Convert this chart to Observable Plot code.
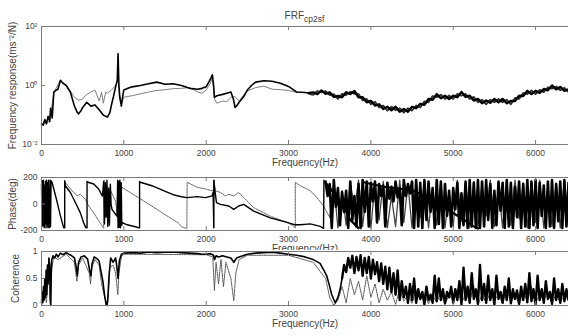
<!DOCTYPE html>
<html><head><meta charset="utf-8">
<script src="https://cdn.jsdelivr.net/npm/d3@7"></script>
<script src="https://cdn.jsdelivr.net/npm/@observablehq/plot@0.6"></script>
<style>
html,body{margin:0;padding:0;background:#fff;}
#fig{position:relative;width:568px;height:336px;overflow:hidden;background:#fff;font-family:"Liberation Sans",Arial,Helvetica,sans-serif;}
.panel{position:absolute;left:0;}
#title{position:absolute;left:41px;width:527px;top:11px;text-align:center;font-size:10px;line-height:10px;color:#444;}
#title sub{font-size:8.5px;vertical-align:-3px;line-height:0;}
</style></head>
<body><div id="fig"><div id="title">FRF<sub>cp2sf</sub></div></div>
<script>
// ---------- shared axis values ----------
const xTicks = [0, 1000, 2000, 3000, 4000, 5000, 6000];
const xDomain = [0, 6400];
const magTicks = [0.01, 1, 100];
const magTickLabels = ["10⁻²", "10⁰", "10²"];
const phaseTicks = [-200, 0, 200];
const cohTicks = [0, 0.5, 1];
const titleMain = "FRF", titleSub = "cp2sf";
const xLabel = "Frequency(Hz)";
const magLabel = "Frequency response(ms⁻²/N)";
const phaseLabel = "Phase(deg)";
const cohLabel = "Coherence";

// ---------- magnitude (top panel) ----------
const magBlackHz = [0,20,40,60,80,100,110,130,150,180, 200,230,260,300,350,400,430,450,480,500,
  550,600,650,700,750,780,800,830,850,880, 900,920,930,940,950,970,990,1000,1050,1100,
  1200,1300,1400,1500,1600,1700,1800,1900,1950,2000, 2050,2075,2090,2100,2130,2200,2250,2300,2330,2350,
  2380,2400,2450,2500,2550,2600,2700,2800,2900,3000, 3100,3200,3250];
const magBlackVal = [0.05,0.045,0.07,0.05,0.09,0.06,0.17,0.08,0.6,0.7, 0.75,1.5,1.2,1.0,0.6,0.2,0.13,0.11,0.14,0.18,
  0.27,0.2,0.22,0.15,0.1,0.09,0.085,0.12,0.22,0.5, 0.9,1.5,12,1.0,0.4,0.2,0.5,0.7,0.8,0.9,
  1.0,1.15,1.3,1.1,1.15,1.0,0.8,0.75,0.8,0.9, 1.6,2.3,1.0,0.4,0.45,0.5,0.55,0.6,0.35,0.18,
  0.22,0.27,0.4,0.7,1.0,1.3,1.45,1.4,1.2,0.93, 0.6,0.58,0.56];
const magGrayHz = [0,100,150,230,300,350,400,450,500,550, 600,650,700,730,750,780,800,850,900,925,
  930,935,950,970,1000,1100,1200,1300,1400,1500, 1600,1700,1800,1900,1950,2000,2050,2075,2090,2100,
  2130,2200,2250,2300,2350,2400,2450,2500,2600,2700, 2800,2900,3000,3100,3200,3250];
const magGrayVal = [0.05,0.06,0.6,1.5,1.0,0.65,0.4,0.32,0.35,0.5, 0.6,0.7,0.3,0.6,0.25,0.6,0.55,0.7,1.0,1.5,
  8,1.2,0.5,0.25,0.4,0.45,0.52,0.6,0.68,0.72, 0.78,0.8,0.85,0.6,0.55,0.7,1.2,1.8,0.8,0.35,
  0.25,0.3,0.28,0.4,0.42,0.3,0.45,0.65,0.85,0.95, 0.75,0.72,0.68,0.58,0.58,0.52];
// noisy band, sampled every 50 Hz from 3300 to 6400 Hz
const magBandHz = d3.range(3300, 6401, 50);
const magBandBlack = [0.58,0.51,0.68,0.52,0.59,0.41,0.44,0.40,0.59,0.51, 0.65,0.40,0.40,0.27,0.30,0.21,0.23,0.16,0.19,0.145,
  0.19,0.13,0.16,0.13,0.19,0.17,0.24,0.22,0.35,0.33, 0.51,0.37,0.45,0.35,0.45,0.40,0.60,0.41,0.45,0.31,
  0.35,0.25,0.31,0.26,0.35,0.27,0.35,0.25,0.30,0.30, 0.45,0.44,0.66,0.51,0.66,0.56,0.76,0.69,1.0,0.74,
  0.89,0.66,0.74];
const magBandGray = [0.48,0.65,0.58,0.65,0.47,0.51,0.35,0.52,0.47,0.62, 0.52,0.52,0.31,0.35,0.23,0.28,0.18,0.21,0.14,0.19,
  0.145,0.17,0.12,0.17,0.14,0.21,0.18,0.29,0.27,0.44, 0.40,0.49,0.35,0.46,0.35,0.52,0.45,0.52,0.35,0.41,
  0.27,0.33,0.23,0.33,0.27,0.35,0.27,0.33,0.23,0.38, 0.35,0.56,0.51,0.68,0.51,0.71,0.59,0.87,0.78,0.93,
  0.69,0.83,0.60];

// ---------- phase (middle panel) ----------
const phaseBlackHz = [0,6,12,18,24,30,36,42,48,54, 60,66,72,78,84,90,96,100,104,110,
  116,128,180,230,270,282,282,290,351,392, 432,472,513,540,553,553,565,634,694,740,
  755,765,775,785,795,805,815,825,836,845, 856,890,917,925,930,937,945,952,960,968,
  975,980,1040,1140,1185,1191,1191,1200,1341,1503, 1600,1700,1769,1890,1991,2072,2085,2092,2093,2100,
  2125,2173,2274,2335,2395,2456,2577,2779,2981,3082, 3143,3264,3385,3425,3430];
const phaseBlackDeg = [150,-170,175,-160,180,-175,140,-180,170,-150, 180,-180,160,-170,180,-180,120,-175,180,-170,
  175,164,40,-90,-180,-180,175,138,87,36, -15,-67,-144,-180,-180,170,164,151,113,60,
  170,-150,160,-100,180,-170,120,-160,150,0, -41,-70,-92,180,-180,170,-175,180,-180,160,
  -160,-140,-157,-172,-180,-180,170,164,138,95, 70,55,48,56,48,61,87,-180,180,130,
  10,-3,-15,-41,-15,-3,-54,-105,-139,-157, -157,-150,-169,-185,180];
const phaseGrayHz = [282,330,371,432,472,533,574,634,714,755, 760,800,840,900,935,977,1100,1300,1500,1664,
  1700,1765,1769,1890,1991,2072,2085,2092,2093,2113, 2173,2234,2274,2335,2395,2456,2577,2779,2981,3060,
  3082,3082,3143,3264,3345,3425,3500];
const phaseGrayDeg = [170,130,100,62,74,36,-15,-67,-144,-183, 180,120,100,20,-150,126,78,0,-80,-144,
  -172,-185,164,126,113,100,110,-180,180,100, 87,61,74,61,87,48,-28,-92,-139,-165,
  -182,164,138,100,48,-15,-100];
const phaseTrendHz = [3445,3546,3667,3748,3849, 3910,4153,4516,4718,4920,5122,5243,5300];
const phaseTrendDeg = [164,87,-15,-118,-182, 164,130,102,38,-38,-115,-167,-185];
const phaseTrendSeg = [1,1,1,1,1, 2,2,2,2,2,2,2,2];
// dense wrapped phase, every 25 Hz from 3450 to 6400 Hz
const phaseNoiseHz = d3.range(3450, 6401, 25);
const phaseNoiseDeg = [
  170,60,150,-180,180,-20,120,-160,90,-60,100,-180,
  170,-120,60,-170,150,-180,180,-60,170,-170,160,20,
  170,-140,150,60,140,-170,160,40,130,20,170,50,
  120,-160,180,60,150,80,170,-180,180,-170,160,-180,
  180,-120,170,-60,120,-180,180,-150,170,-180,150,-90,
  100,-170,120,-40,160,-180,80,-160,170,-180,180,-170,
  160,-180,180,-180,170,-170,180,-120,150,-180,100,-160,
  170,-50,160,-180,180,-170,160,-180,130,-100,170,-180,
  150,-170,180,-180,170,-160,180,-180,160,-90,140,-180,
  170,-170,180,-180,150,-130,170,-180,180,-170,160];
// second (dotted) wrapped phase, every 50 Hz from 3500 to 6400 Hz
const phaseGrayNoiseHz = d3.range(3500, 6401, 50);
const phaseGrayNoiseDeg = [
  -100,150,-180,100,-160,170,-50,180,-170,120,-180,160,
  -120,170,-180,60,-170,180,-140,150,-180,170,-100,180,
  -180,120,-160,170,-180,90,-170,180,-130,160,-180,170,
  -180,150,-90,180,-170,130,-180,170,-160,180,-110,160,
  -180,170,-140,180,-180,100,-170,160,-180,180,-150];

// ---------- coherence (bottom panel) ----------
const cohBlackHz = [0,8,16,24,32,40,48,56,64,72, 80,90,100,106,112,118,125,140,160,180,
  200,230,260,300,330,360,400,420,435,450, 480,520,560,585,600,615,640,680,700,720,
  745,765,785,795,805,820,840,870,900,915, 930,945,970,1000,1100,1200,1300,1400,1500,1600,
  1700,1800,1900,1950,2000,2050,2090,2100,2120,2150, 2200,2250,2300,2335,2370,2400,2500,2600,2700,2800,
  2900,3000,3100,3200,3300,3383,3430,3464,3500,3525, 3566,3600,3626,3650];
const cohBlackVal = [0.05,0.25,0.05,0.35,0.1,0.5,0.15,0.65,0.2,0.75, 0.4,0.88,0.75,0.1,0.0,0.6,0.85,0.92,0.88,0.95,
  0.9,0.97,0.94,0.98,0.95,0.93,0.88,0.72,0.55,0.8, 0.9,0.92,0.86,0.65,0.55,0.78,0.9,0.86,0.82,0.65,
  0.45,0.2,0.02,0.0,0.1,0.55,0.88,0.8,0.88,0.72, 0.5,0.82,0.95,0.97,0.98,0.97,0.99,0.98,0.985,0.99,
  0.98,0.97,0.96,0.95,0.95,0.96,0.93,0.85,0.92,0.9, 0.92,0.9,0.88,0.8,0.88,0.9,0.95,0.97,0.98,0.985,
  0.97,0.95,0.93,0.9,0.85,0.78,0.65,0.55,0.35,0.2, 0.05,0.15,0.3,0.5];
const cohGrayHz = [0,20,40,60,80,95,110,125,150,200, 300,400,430,450,500,580,596,610,650,700,
  730,760,790,810,830,870,900,927,940,970, 1000,2000,2080,2100,2120,2150,2180,2210,2240,2300,
  2335,2360,2400,2500,3000,3300,3450,3500,3550];
const cohGrayVal = [0.0,0.1,0.3,0.05,0.5,0.8,0.0,0.7,0.9,0.85, 0.95,0.8,0.45,0.75,0.88,0.6,0.4,0.7,0.85,0.75,
  0.4,0.2,0.0,0.2,0.7,0.75,0.6,0.2,0.6,0.9, 0.95,0.94,0.9,0.28,0.8,0.4,0.85,0.35,0.8,0.5,
  0.09,0.6,0.85,0.93,0.93,0.8,0.5,0.15,0.0];
// noisy coherence, every 25 Hz from 3650 to 6400 Hz
const cohNoiseHz = d3.range(3650, 6401, 25);
const cohNoiseVal = [
  0.5,0.75,0.62,0.88,0.7,0.92,0.6,0.9,0.65,0.93,0.55,0.88,
  0.6,0.9,0.5,0.85,0.58,0.8,0.45,0.78,0.4,0.72,0.3,0.7,
  0.25,0.6,0.2,0.65,0.1,0.45,0.15,0.35,0.05,0.4,0.1,0.5,
  0.05,0.3,0.12,0.25,0.02,0.35,0.1,0.2,0.05,0.55,0.08,0.5,
  0.1,0.3,0.04,0.25,0.15,0.35,0.05,0.3,0.1,0.45,0.02,0.7,
  0.1,0.35,0.05,0.6,0.12,0.3,0.03,0.75,0.1,0.4,0.05,0.55,
  0.1,0.3,0.02,0.55,0.12,0.25,0.05,0.35,0.1,0.5,0.04,0.3,
  0.12,0.28,0.03,0.35,0.1,0.4,0.06,0.6,0.08,0.3,0.02,0.55,
  0.1,0.3,0.05,0.45,0.12,0.25,0.03,0.5,0.1,0.3,0.05,0.4,
  0.08,0.3,0.1];
const cohGrayNoiseHz = d3.range(3600, 6401, 50);
const cohGrayNoiseVal = [
  0.1,0.35,0.05,0.5,0.2,0.45,0.1,0.55,0.15,0.4,0.05,0.3,
  0.1,0.25,0.02,0.3,0.08,0.2,0.04,0.28,0.1,0.22,0.03,0.18,
  0.06,0.25,0.02,0.2,0.1,0.3,0.04,0.22,0.08,0.35,0.02,0.2,
  0.05,0.25,0.1,0.2,0.03,0.3,0.06,0.2,0.02,0.25,0.08,0.35,
  0.04,0.2,0.1,0.25,0.03,0.22,0.06,0.18,0.1];

// ---------- build rows ----------
const rows = (hz, vals) => hz.map((f, i) => ({f, v: vals[i]}));
const magBlack = rows(magBlackHz, magBlackVal);
const magGray = rows(magGrayHz, magGrayVal);
const magBandB = [magBlack[magBlack.length - 1]].concat(rows(magBandHz, magBandBlack));
const magBandG = [magGray[magGray.length - 1]].concat(rows(magBandHz, magBandGray));
const phBlack = rows(phaseBlackHz, phaseBlackDeg);
const phGray = rows(phaseGrayHz, phaseGrayDeg);
const phTrend = phaseTrendHz.map((f, i) => ({f, v: phaseTrendDeg[i], s: phaseTrendSeg[i]}));
const phNoise = rows(phaseNoiseHz, phaseNoiseDeg);
const phGrayNoise = rows(phaseGrayNoiseHz, phaseGrayNoiseDeg);
const cohBlack = rows(cohBlackHz, cohBlackVal);
const cohNoise = rows(cohNoiseHz, cohNoiseVal);
const cohGray = rows(cohGrayHz, cohGrayVal).concat(rows(cohGrayNoiseHz, cohGrayNoiseVal));

// ---------- styling ----------
const W = 568, ML = 41, MR = 0;
const innerW = W - ML - MR;
const axisColor = "#7a7a7a";
const textColor = "#444";
const fontFamily = '"Liberation Sans", Arial, Helvetica, sans-serif';

function frameAndTicks(innerH, yTicks) {
  return [
    Plot.frame({stroke: axisColor}),
    Plot.tickX(xTicks, {x: d => d, insetTop: innerH - 4, stroke: axisColor}),
    Plot.tickX(xTicks, {x: d => d, insetBottom: innerH - 4, stroke: axisColor}),
    Plot.tickY(yTicks, {y: d => d, insetRight: innerW - 4, stroke: axisColor})
  ];
}
function labels(yLabelText, xLabelDy, yLabelDx) {
  return [
    Plot.text([xLabel], {text: d => d, frameAnchor: "bottom", dy: xLabelDy, fontSize: 10, fill: textColor}),
    Plot.text([yLabelText], {text: d => d, frameAnchor: "left", dx: yLabelDx, rotate: -90,
      textAnchor: "middle", lineAnchor: "middle", fontSize: 10, fill: textColor})
  ];
}
function panel(top, height, mt, mb, bg, yOpts, marks) {
  const chart = Plot.plot({
    width: W, height, marginTop: mt, marginBottom: mb, marginLeft: ML, marginRight: MR,
    style: {fontFamily, fontSize: "8.5px", color: textColor, background: bg, overflow: "visible"},
    x: {domain: xDomain, ticks: xTicks, tickSize: 0, tickPadding: 5, label: null, tickFormat: d => String(d)},
    y: {tickSize: 0, tickPadding: 4, label: null, ...yOpts},
    marks
  });
  const div = document.createElement("div");
  div.className = "panel";
  div.style.top = top + "px";
  div.appendChild(chart);
  document.getElementById("fig").appendChild(div);
}

// top panel: magnitude
{
  const mt = 26, mb = 26, h = 170, innerH = h - mt - mb;
  panel(0, h, mt, mb, "transparent",
    {type: "log", domain: [0.01, 100], ticks: magTicks, tickFormat: d => magTickLabels[magTicks.indexOf(d)]},
    [
      Plot.line(magGray, {x: "f", y: "v", stroke: "#808080", strokeWidth: 1}),
      Plot.line(magBandG, {x: "f", y: "v", stroke: "#333", strokeWidth: 1.8}),
      Plot.line(magBlack, {x: "f", y: "v", stroke: "#000", strokeWidth: 1.6}),
      Plot.line(magBandB, {x: "f", y: "v", stroke: "#000", strokeWidth: 2.4}),
      ...frameAndTicks(innerH, magTicks),
      ...labels(magLabel, 21.5, -29)
    ]);
}
// middle panel: phase
{
  const mt = 17, mb = 25, h = 95, innerH = h - mt - mb;
  panel(160, h, mt, mb, "transparent",
    {domain: [-200, 200], ticks: phaseTicks, tickFormat: d => String(d)},
    [
      Plot.line(phGrayNoise, {x: "f", y: "v", stroke: "#444", strokeWidth: 1.3}),
      Plot.line(phGray, {x: "f", y: "v", stroke: "#666", strokeWidth: 1, strokeDasharray: "2,1"}),
      Plot.line(phNoise, {x: "f", y: "v", stroke: "#000", strokeWidth: 2.6}),
      Plot.line(phBlack, {x: "f", y: "v", stroke: "#000", strokeWidth: 1.4}),
      Plot.line(phTrend, {x: "f", y: "v", z: "s", stroke: "#000", strokeWidth: 2.2}),
      ...frameAndTicks(innerH, phaseTicks),
      ...labels(phaseLabel, 21, -29)
    ]);
}
// bottom panel: coherence (white background hides the lower half of the label above)
{
  const mt = 1, mb = 31, h = 86, innerH = h - mt - mb;
  panel(250, h, mt, mb, "#fff",
    {domain: [0, 1], ticks: cohTicks, tickFormat: d => String(d)},
    [
      Plot.line(cohGray, {x: "f", y: "v", stroke: "#555", strokeWidth: 1, strokeDasharray: "1.5,1"}),
      Plot.line(cohBlack, {x: "f", y: "v", stroke: "#000", strokeWidth: 1.6}),
      Plot.line(cohNoise, {x: "f", y: "v", stroke: "#000", strokeWidth: 2.4}),
      ...frameAndTicks(innerH, cohTicks),
      ...labels(cohLabel, 21.5, -26)
    ]);
}
document.getElementById("title").innerHTML = titleMain + "<sub>" + titleSub + "</sub>";
</script>
</body></html>
